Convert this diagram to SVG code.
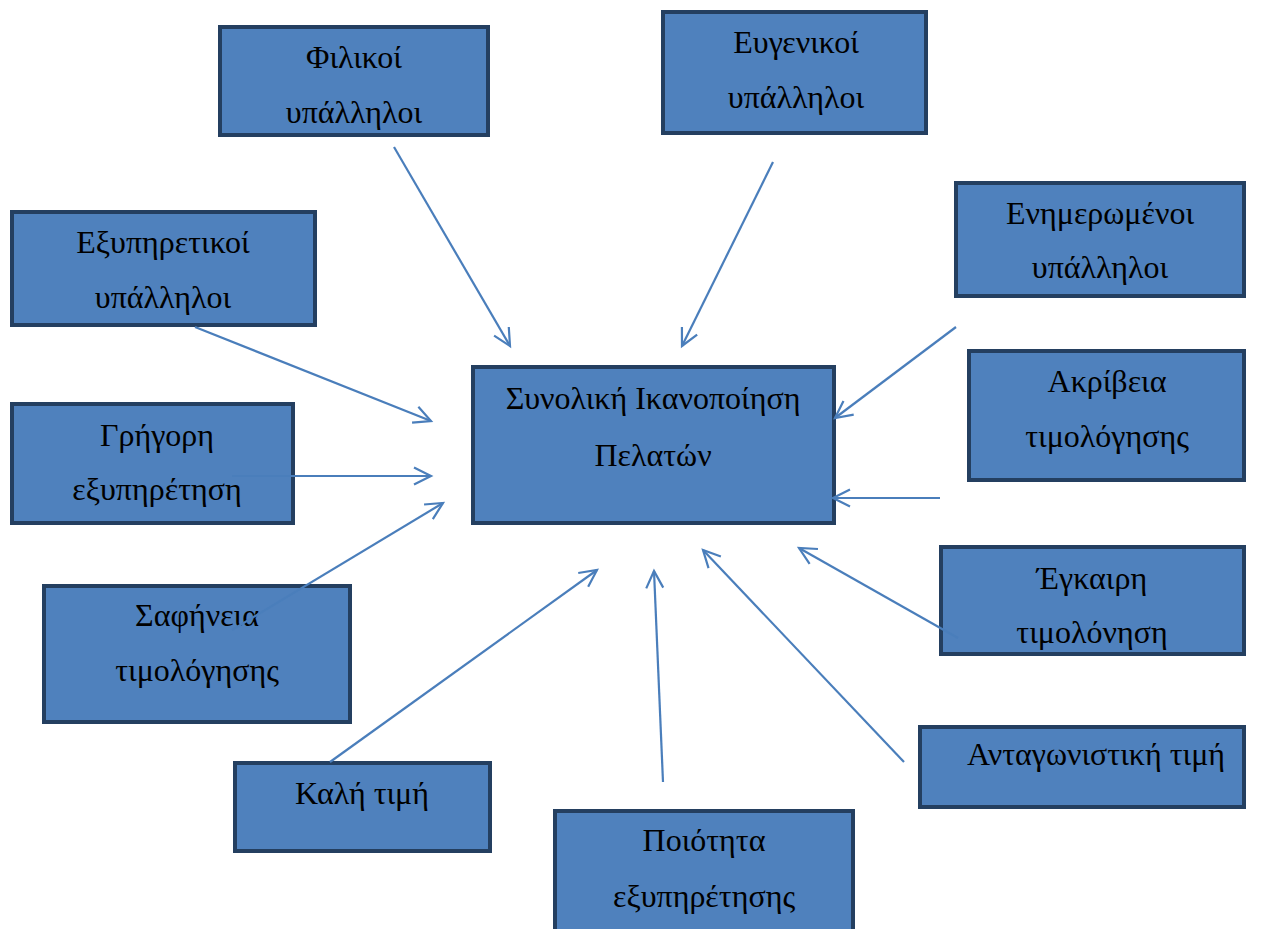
<svg xmlns="http://www.w3.org/2000/svg" width="1274" height="929" viewBox="0 0 1274 929">
<style>
.box{fill:#4F81BD;stroke:#243F60;stroke-width:4}
.t{font-family:"Liberation Serif","DejaVu Serif",serif;font-size:32px;fill:#000;text-anchor:middle}
.c{stroke:#4A7EBB;stroke-width:2.2;fill:none;marker-end:url(#ah)}
</style>
<defs>
<marker id="ah" markerUnits="userSpaceOnUse" markerWidth="22" markerHeight="22" refX="18" refY="9" orient="auto" viewBox="0 0 22 18">
<polyline points="1,0.5 18,9 1,17.5" fill="none" stroke="#4A7EBB" stroke-width="2.2"/>
</marker>
</defs>
<rect width="1274" height="929" fill="#fff"/>
<g id="n-filikoi"><rect class="box" x="220" y="27" width="268" height="108"/><text class="t" x="354" y="68">Φιλικοί</text><text class="t" x="354" y="123">υπάλληλοι</text></g>
<g id="n-eugenikoi"><rect class="box" x="663" y="12" width="263" height="121"/><text class="t" x="796" y="53">Ευγενικοί</text><text class="t" x="796" y="108">υπάλληλοι</text></g>
<g id="n-enimeromenoi"><rect class="box" x="956" y="183" width="288" height="113"/><text class="t" x="1100" y="224">Ενημερωμένοι</text><text class="t" x="1100" y="278">υπάλληλοι</text></g>
<g id="n-exypiretikoi"><rect class="box" x="12" y="212" width="303" height="113"/><text class="t" x="163" y="253">Εξυπηρετικοί</text><text class="t" x="163" y="308">υπάλληλοι</text></g>
<g id="n-synoliki"><rect class="box" x="473" y="367" width="361" height="156"/><text class="t" x="653" y="409">Συνολική Ικανοποίηση</text><text class="t" x="653" y="466">Πελατών</text></g>
<g id="n-akriveia"><rect class="box" x="969" y="351" width="275" height="129"/><text class="t" x="1107" y="392">Ακρίβεια</text><text class="t" x="1107" y="447">τιμολόγησης</text></g>
<g id="n-grigori"><rect class="box" x="12" y="404" width="281" height="119"/><text class="t" x="157" y="446">Γρήγορη</text><text class="t" x="157" y="500">εξυπηρέτηση</text></g>
<g id="n-safineia"><rect class="box" x="44" y="586" width="306" height="136"/><text class="t" x="197" y="626">Σαφήνεια</text><text class="t" x="197" y="681">τιμολόγησης</text></g>
<g id="n-egkairi"><rect class="box" x="941" y="547" width="303" height="107"/><text class="t" x="1092" y="589">Έγκαιρη</text><text class="t" x="1092" y="643">τιμολόνηση</text></g>
<g id="n-antagonistiki"><rect class="box" x="920" y="727" width="324" height="80"/><text class="t" x="1096" y="765">Ανταγωνιστική τιμή</text></g>
<g id="n-kali"><rect class="box" x="235" y="763" width="255" height="88"/><text class="t" x="362" y="804">Καλή τιμή</text></g>
<g id="n-poiotita"><rect class="box" x="555" y="811" width="298" height="122"/><text class="t" x="704" y="851">Ποιότητα</text><text class="t" x="704" y="907">εξυπηρέτησης</text></g>
<g id="connectors">
<line class="c" x1="394" y1="147" x2="510" y2="346"/>
<line class="c" x1="773" y1="162" x2="682" y2="346"/>
<line class="c" x1="956" y1="327" x2="835" y2="418"/>
<line class="c" x1="195" y1="327" x2="431" y2="421"/>
<line class="c" x1="232" y1="476" x2="431" y2="476"/>
<line class="c" x1="940" y1="498" x2="833" y2="498"/>
<line class="c" x1="232" y1="630" x2="443" y2="503"/>
<line class="c" x1="958" y1="638" x2="799" y2="548"/>
<line class="c" x1="330" y1="762" x2="597" y2="570"/>
<line class="c" x1="663" y1="782" x2="654" y2="571"/>
<line class="c" x1="904" y1="762" x2="703" y2="550"/>
</g>
</svg>
